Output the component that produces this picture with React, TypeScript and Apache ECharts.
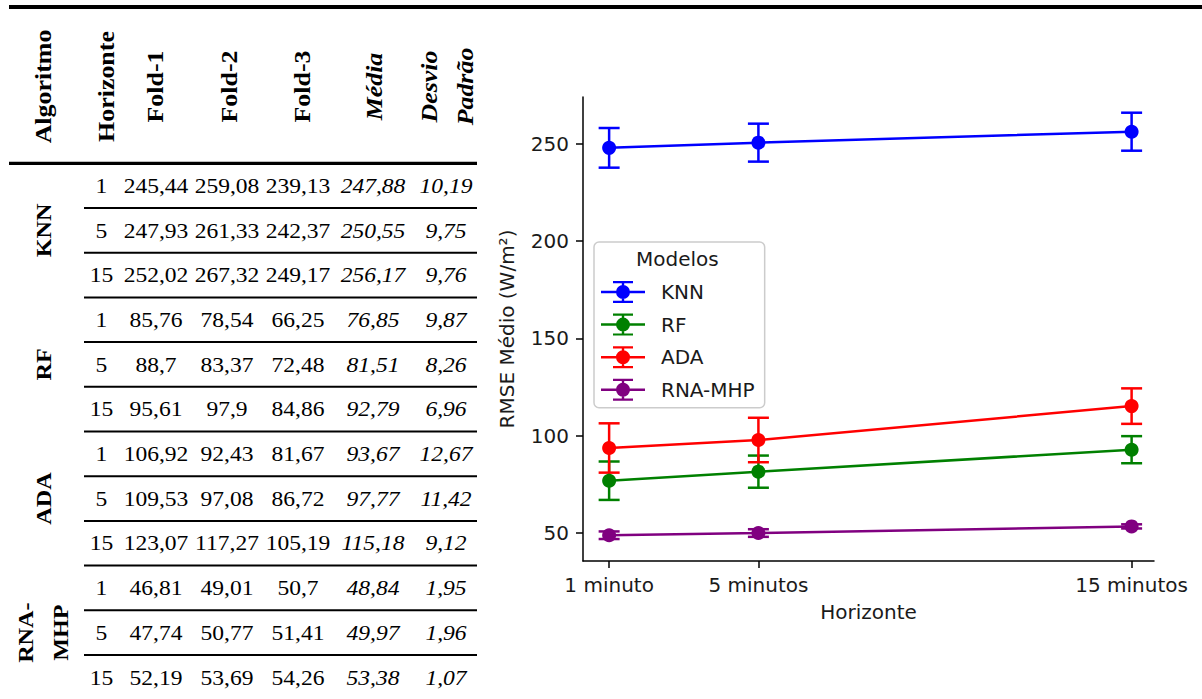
import React, { useEffect, useRef } from 'react';
import * as echarts from 'echarts';

// ---------- data ----------
const algorithms = ['KNN', 'RF', 'ADA', 'RNA-MHP'];
const algorithmLabels = ['KNN', 'RF', 'ADA', 'RNA-\nMHP'];
const horizons = [1, 5, 15];
const horizonLabels = ['1 minuto', '5 minutos', '15 minutos'];
const headerLabels = ['Algoritmo', 'Horizonte', 'Fold-1', 'Fold-2', 'Fold-3', 'Média', 'Desvio\nPadrão'];
const fold1 = [245.44, 247.93, 252.02, 85.76, 88.7, 95.61, 106.92, 109.53, 123.07, 46.81, 47.74, 52.19];
const fold2 = [259.08, 261.33, 267.32, 78.54, 83.37, 97.9, 92.43, 97.08, 117.27, 49.01, 50.77, 53.69];
const fold3 = [239.13, 242.37, 249.17, 66.25, 72.48, 84.86, 81.67, 86.72, 105.19, 50.7, 51.41, 54.26];
const means = [247.88, 250.55, 256.17, 76.85, 81.51, 92.79, 93.67, 97.77, 115.18, 48.84, 49.97, 53.38];
const stds = [10.19, 9.75, 9.76, 9.87, 8.26, 6.96, 12.67, 11.42, 9.12, 1.95, 1.96, 1.07];
const yTicks = [50, 100, 150, 200, 250];
const colors = ['#0000ff', '#008000', '#ff0000', '#800080'];

// ---------- style / layout ----------
const sans = "'DejaVu Sans', sans-serif";
const serif = "'Liberation Serif', 'Times New Roman', serif";
const textColor = '#1a1a1a';
const tableTop = 163.3;
const rowH = 44.7;
const headerMidY = 86.5;
const headerX = [43, 106, 155, 228.5, 302, 373.5, 447];
const colX = [43, 101.5, 156, 227, 298, 373, 446];
const ruleLeft = 84;
const ruleRight = 477;
const bodyScale = 1.07;

const fmt = (v: number) => String(v).replace('.', ',');

const errorIcon =
  'path://M0 9.75 h44 v2.5 H0 Z M20.8 0 h2.4 v22 h-2.4 Z M12 0 h20 v2.2 H12 Z M12 19.8 h20 v2.2 H12 Z M15 11 a7 7 0 1 1 14 0 a7 7 0 1 1 -14 0 Z';

function buildTable(): any[] {
  const els: any[] = [];
  // top thick rule
  els.push({ type: 'rect', shape: { x: 9, y: 5, width: 1193, height: 4 }, style: { fill: '#000' } });
  // header
  headerLabels.forEach((t, c) => {
    els.push({
      type: 'text',
      x: headerX[c],
      y: headerMidY,
      rotation: Math.PI / 2,
      scaleX: 1.08,
      style: {
        text: t,
        fontFamily: serif,
        fontSize: 24,
        fontWeight: 'bold',
        fontStyle: c >= 5 ? 'italic' : 'normal',
        fill: '#000',
        align: 'center',
        verticalAlign: 'middle',
        lineHeight: 36,
      },
    });
  });
  // header bottom rule
  els.push({ type: 'rect', shape: { x: 9, y: tableTop - 1.6, width: ruleRight - 9, height: 3.2 }, style: { fill: '#000' } });
  // body rows
  const nRows = means.length;
  for (let i = 0; i < nRows; i++) {
    const cy = tableTop + i * rowH + rowH / 2;
    const cells = [
      String(horizons[i % 3]),
      fmt(fold1[i]),
      fmt(fold2[i]),
      fmt(fold3[i]),
      fmt(means[i]),
      fmt(stds[i]),
    ];
    cells.forEach((t, c) => {
      els.push({
        type: 'text',
        x: colX[c + 1],
        y: cy,
        scaleX: bodyScale,
        style: {
          text: t,
          fontFamily: serif,
          fontSize: 22,
          fontStyle: c >= 4 ? 'italic' : 'normal',
          fill: '#000',
          align: 'center',
          verticalAlign: 'middle',
        },
      });
    });
    if (i < nRows - 1) {
      const ly = tableTop + (i + 1) * rowH;
      els.push({ type: 'rect', shape: { x: ruleLeft, y: ly - 1, width: ruleRight - ruleLeft, height: 2 }, style: { fill: '#000' } });
    }
  }
  // algorithm group labels
  algorithmLabels.forEach((t, g) => {
    els.push({
      type: 'text',
      x: colX[0],
      y: tableTop + (g * 3 + 1.5) * rowH,
      rotation: Math.PI / 2,
      scaleX: 1.1,
      style: {
        text: t,
        fontFamily: serif,
        fontSize: 22,
        fontWeight: 'bold',
        fill: '#000',
        align: 'center',
        verticalAlign: 'middle',
        lineHeight: 35,
      },
    });
  });
  return els;
}

export default function App() {
  const ref = useRef<HTMLDivElement>(null);

  useEffect(() => {
    if (!ref.current) return;
    const chart = echarts.init(ref.current, undefined, { renderer: 'svg' });

    const series: any[] = [];
    algorithms.forEach((name, k) => {
      const color = colors[k];
      series.push({
        type: 'custom',
        name: name + ' (desvio)',
        silent: true,
        z: 2,
        data: horizons.map((h, j) => [h, means[k * 3 + j], stds[k * 3 + j]]),
        encode: { x: 0, y: 1 },
        renderItem: (params: any, api: any) => {
          const x = api.value(0);
          const m = api.value(1);
          const s = api.value(2);
          const top = api.coord([x, m + s]);
          const bot = api.coord([x, m - s]);
          const half = 10.5;
          const style = { stroke: color, lineWidth: 2.5 };
          return {
            type: 'group',
            children: [
              { type: 'line', shape: { x1: top[0], y1: top[1], x2: bot[0], y2: bot[1] }, style },
              { type: 'line', shape: { x1: top[0] - half, y1: top[1], x2: top[0] + half, y2: top[1] }, style },
              { type: 'line', shape: { x1: bot[0] - half, y1: bot[1], x2: bot[0] + half, y2: bot[1] }, style },
            ],
          };
        },
      });
      series.push({
        type: 'line',
        name,
        z: 3,
        data: horizons.map((h, j) => [h, means[k * 3 + j]]),
        symbol: 'circle',
        symbolSize: 14,
        showSymbol: true,
        lineStyle: { color, width: 2.5 },
        itemStyle: { color, borderWidth: 0 },
        emphasis: { disabled: true },
      });
    });

    chart.setOption({
      animation: false,
      backgroundColor: '#ffffff',
      title: {
        text: 'Modelos',
        left: 636,
        top: 249,
        padding: 0,
        z: 10,
        textStyle: { fontFamily: sans, fontSize: 20, fontWeight: 'normal', color: textColor },
      },
      legend: {
        orient: 'vertical',
        left: 594,
        top: 242,
        padding: [39, 10, 7, 7],
        itemWidth: 44,
        itemHeight: 22,
        itemGap: 10.6,
        selectedMode: false,
        backgroundColor: 'rgba(255,255,255,0.8)',
        borderColor: '#cccccc',
        borderWidth: 1.5,
        borderRadius: 5,
        z: 4,
        itemStyle: { borderWidth: 0 },
        textStyle: { fontFamily: sans, fontSize: 20, color: textColor, padding: [0, 0, 0, 11] },
        data: algorithms.map((name) => ({ name, icon: errorIcon })),
      },
      grid: { left: 583, top: 97, right: 48, bottom: 138, outerBoundsMode: 'none' },
      xAxis: {
        type: 'value',
        min: 0.3,
        max: 15.6,
        name: 'Horizonte',
        nameLocation: 'middle',
        nameGap: 41,
        nameTextStyle: { fontFamily: sans, fontSize: 20, color: textColor },
        splitLine: { show: false },
        axisLine: { show: true, onZero: false, lineStyle: { color: '#000', width: 1.5 } },
        axisTick: { show: true, customValues: horizons, length: 7, lineStyle: { color: '#000', width: 1.5 } },
        axisLabel: {
          customValues: horizons,
          margin: 14,
          fontFamily: sans,
          fontSize: 20,
          color: textColor,
          formatter: (v: number) => {
            const idx = horizons.indexOf(v);
            return idx >= 0 ? horizonLabels[idx] : '';
          },
        },
      },
      yAxis: {
        type: 'value',
        min: 35.6,
        max: 274,
        name: 'RMSE Médio (W/m²)',
        nameLocation: 'middle',
        nameGap: 66,
        nameRotate: 90,
        nameTextStyle: { fontFamily: sans, fontSize: 20, color: textColor },
        splitLine: { show: false },
        axisLine: { show: true, onZero: false, lineStyle: { color: '#000', width: 1.5 } },
        axisTick: { show: true, customValues: yTicks, length: 7, lineStyle: { color: '#000', width: 1.5 } },
        axisLabel: {
          customValues: yTicks,
          margin: 14,
          fontFamily: sans,
          fontSize: 20,
          color: textColor,
        },
      },
      graphic: { elements: buildTable() },
      series,
    });

    return () => chart.dispose();
  }, []);

  return (
    <div
      ref={ref}
      style={{ position: 'absolute', left: 0, top: 0, width: 1202, height: 699, background: '#fff' }}
    />
  );
}
